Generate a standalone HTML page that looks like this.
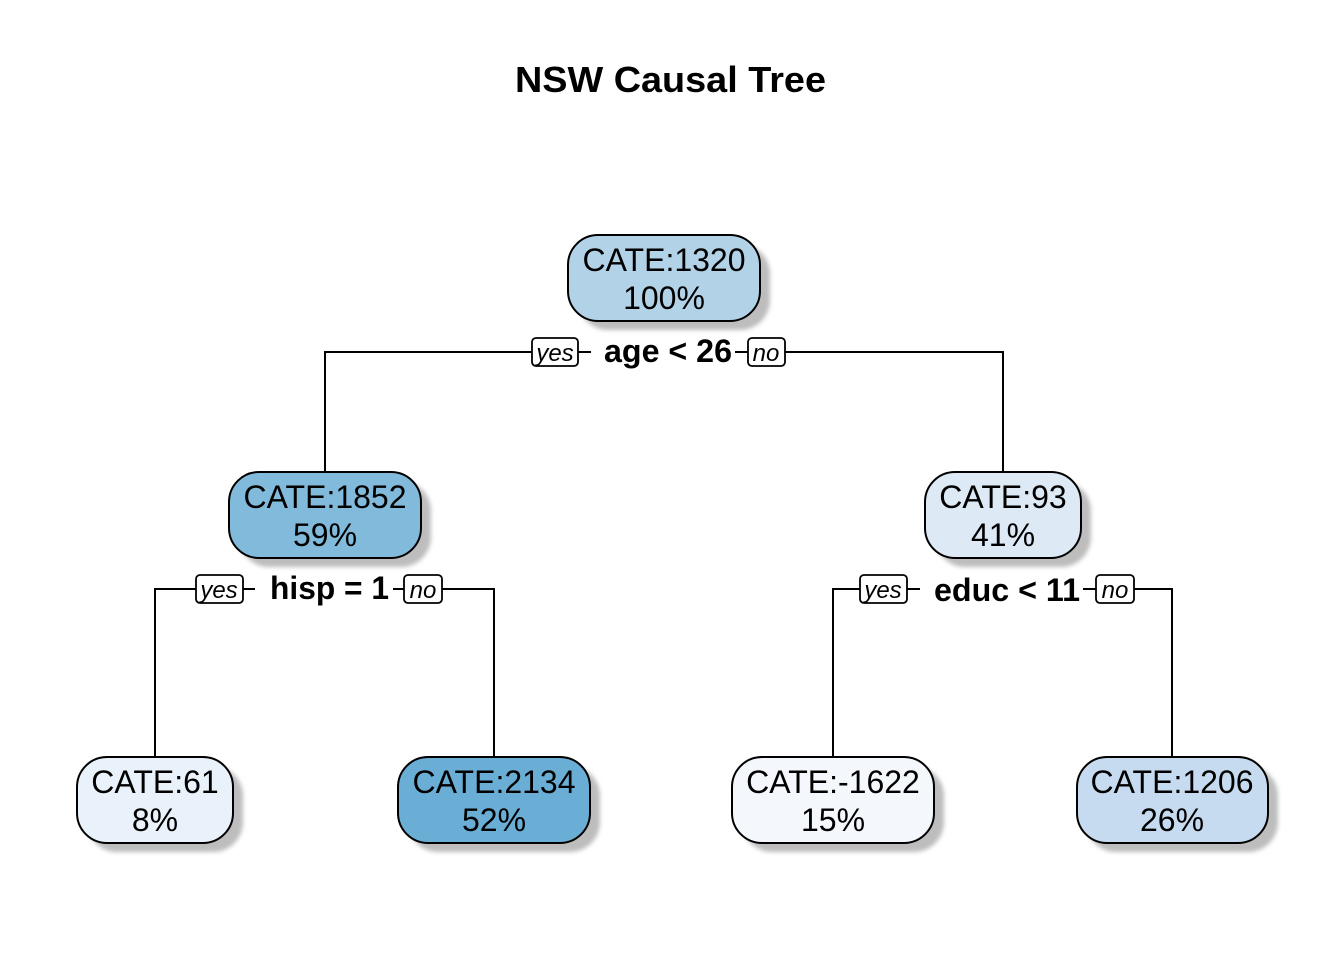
<!DOCTYPE html>
<html><head><meta charset="utf-8"><style>
html,body{margin:0;padding:0;background:#fff;}
svg{display:block;}
text{font-family:"Liberation Sans",Arial,sans-serif;}
</style></head><body>
<svg width="1344" height="960" viewBox="0 0 1344 960" xmlns="http://www.w3.org/2000/svg">
<defs><filter id="b" x="-20%" y="-20%" width="140%" height="140%"><feGaussianBlur stdDeviation="2"/></filter></defs>
<rect width="1344" height="960" fill="#fff"/>
<text x="515" y="92" font-size="36" font-weight="bold" textLength="311" lengthAdjust="spacingAndGlyphs">NSW Causal Tree</text>
<g stroke="#000" stroke-width="2" fill="none">
<path d="M325 472 V352 H591 M735 352 H1003 V472"/>
<path d="M155 757 V589 H255 M393 589 H494 V757"/>
<path d="M833 757 V589 H920 M1083 589 H1172 V757"/>
</g>
<g fill="#bdbdbd" filter="url(#b)">
<rect x="578" y="244" width="192" height="86" rx="30"/>
<rect x="239" y="481" width="192" height="86" rx="30"/>
<rect x="935" y="481" width="156" height="86" rx="30"/>
<rect x="87" y="766" width="156" height="86" rx="30"/>
<rect x="408" y="766" width="192" height="86" rx="30"/>
<rect x="742" y="766" width="202" height="86" rx="30"/>
<rect x="1086" y="766" width="192" height="86" rx="30"/>
</g>
<g stroke="#000" stroke-width="2">
<rect x="568" y="235" width="192" height="86" rx="30" fill="#b2d2e8"/>
<rect x="229" y="472" width="192" height="86" rx="30" fill="#82badb"/>
<rect x="925" y="472" width="156" height="86" rx="30" fill="#dde9f5"/>
<rect x="77" y="757" width="156" height="86" rx="30" fill="#e9f2fb"/>
<rect x="398" y="757" width="192" height="86" rx="30" fill="#6aaed6"/>
<rect x="732" y="757" width="202" height="86" rx="30" fill="#f4f8fd"/>
<rect x="1077" y="757" width="191" height="86" rx="30" fill="#c6dbef"/>
</g>
<g font-size="32" text-anchor="middle" fill="#000">
<text x="664" y="271">CATE:1320</text><text x="664" y="309">100%</text>
<text x="325" y="508">CATE:1852</text><text x="325" y="546">59%</text>
<text x="1003" y="508">CATE:93</text><text x="1003" y="546">41%</text>
<text x="155" y="793">CATE:61</text><text x="155" y="831">8%</text>
<text x="494" y="793">CATE:2134</text><text x="494" y="831">52%</text>
<text x="833" y="793">CATE:-1622</text><text x="833" y="831">15%</text>
<text x="1172" y="793">CATE:1206</text><text x="1172" y="831">26%</text>
</g>
<g stroke="#000" stroke-width="1.8" fill="#fff">
<rect x="532" y="338" width="46" height="28" rx="4"/>
<rect x="748" y="338" width="37" height="28" rx="4"/>
<rect x="196" y="575" width="47" height="28" rx="4"/>
<rect x="404" y="575" width="38" height="28" rx="4"/>
<rect x="860" y="575" width="47" height="28" rx="4"/>
<rect x="1096" y="575" width="38" height="28" rx="4"/>
</g>
<g font-size="24" font-style="italic" text-anchor="middle">
<text x="555" y="361">yes</text><text x="766" y="361">no</text>
<text x="219" y="598">yes</text><text x="423" y="598">no</text>
<text x="883" y="598">yes</text><text x="1115" y="598">no</text>
</g>
<g font-size="32" font-weight="bold">
<text x="604" y="362" textLength="128" lengthAdjust="spacingAndGlyphs">age &lt; 26</text>
<text x="270" y="599" textLength="119" lengthAdjust="spacingAndGlyphs">hisp = 1</text>
<text x="934" y="601" textLength="146" lengthAdjust="spacingAndGlyphs">educ &lt; 11</text>
</g>
</svg>
</body></html>
